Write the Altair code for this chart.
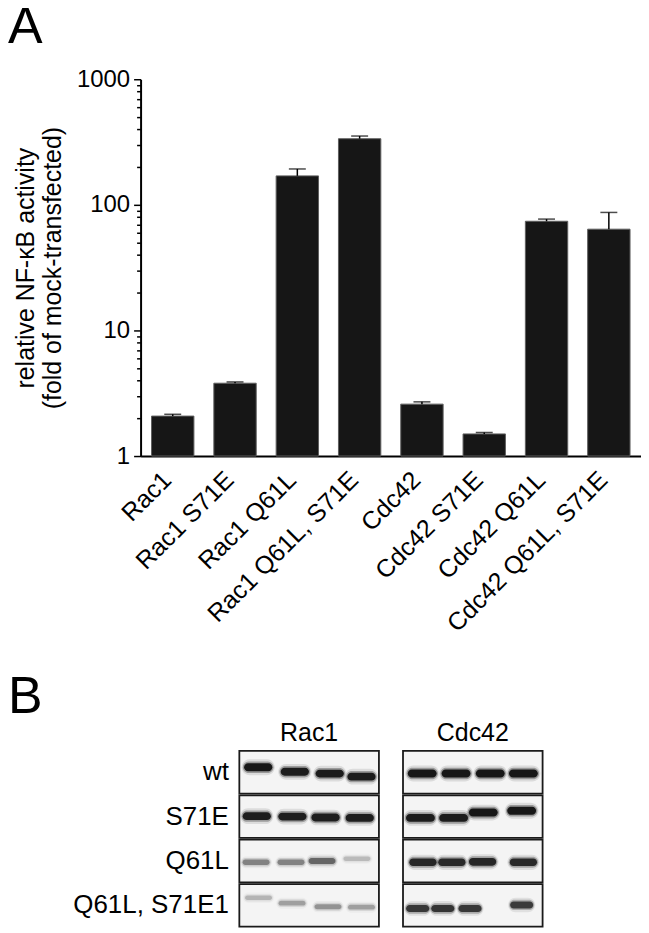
import altair as alt
import pandas as pd

# ---------------- Panel A data ----------------
categories = ["Rac1", "Rac1 S71E", "Rac1 Q61L", "Rac1 Q61L, S71E",
              "Cdc42", "Cdc42 S71E", "Cdc42 Q61L", "Cdc42 Q61L, S71E"]
mean_activity = [2.08, 3.80, 170, 336, 2.59, 1.50, 74, 64]
upper_error = [2.15, 3.89, 193, 353, 2.70, 1.54, 77, 87]

major_ticks = [1, 10, 100, 1000]
all_ticks = [1, 2, 3, 4, 5, 6, 7, 8, 9,
             10, 20, 30, 40, 50, 60, 70, 80, 90,
             100, 200, 300, 400, 500, 600, 700, 800, 900, 1000]

# ---------------- Panel B data (western blot) ----------------
blot_genes = ["Rac1", "Cdc42"]
blot_rows = ["wt", "S71E", "Q61L", "Q61L, S71E1"]
# band darkness (0 = none, 1 = saturated), one list per blot row, 4 lanes each
rac1_intensity = [[1.00, 0.97, 0.97, 0.97],
                  [0.97, 0.95, 0.95, 0.95],
                  [0.42, 0.42, 0.55, 0.20],
                  [0.22, 0.30, 0.35, 0.30]]
cdc42_intensity = [[1.00, 1.00, 1.00, 1.00],
                   [0.97, 0.97, 1.00, 1.00],
                   [0.90, 0.88, 0.90, 0.88],
                   [0.80, 0.82, 0.80, 0.78]]
# lane centre of each band (in lane widths from the blot's left edge)
rac1_lanes = [[0.54, 1.59, 2.59, 3.50],
              [0.50, 1.52, 2.47, 3.45],
              [0.48, 1.48, 2.37, 3.37],
              [0.55, 1.51, 2.54, 3.50]]
cdc42_lanes = [[0.55, 1.52, 2.50, 3.45],
               [0.50, 1.45, 2.30, 3.40],
               [0.57, 1.40, 2.28, 3.45],
               [0.42, 1.14, 1.92, 3.40]]
# migration of each band within its strip (fraction of strip height from top)
rac1_migration = [[0.39, 0.49, 0.53, 0.60],
                  [0.49, 0.50, 0.52, 0.53],
                  [0.53, 0.53, 0.50, 0.45],
                  [0.33, 0.45, 0.53, 0.54]]
cdc42_migration = [[0.53, 0.53, 0.53, 0.53],
                   [0.53, 0.53, 0.41, 0.37],
                   [0.53, 0.53, 0.52, 0.53],
                   [0.57, 0.57, 0.57, 0.49]]
rac1_band_width = [0.88, 0.88, 0.84, 0.84]
cdc42_band_width = [0.90, 0.90, 0.85, 0.72]

FONT = "Liberation Sans"

# ---------------- Panel A ----------------
dfA = pd.DataFrame({"condition": categories, "mean": mean_activity, "upper": upper_error})

is_major = "datum.value == 1 || datum.value == 10 || datum.value == 100 || datum.value == 1000"

x_enc = alt.X("condition:N", sort=categories,
              scale=alt.Scale(paddingInner=0.32, paddingOuter=0.176),
              axis=alt.Axis(title=None, labelAngle=-45, labelFontSize=25, labelFont=FONT,
                            labelColor="black", ticks=False, domainColor="black",
                            domainWidth=2, labelPadding=11, labelOffset=-14,
                            labelLimit=400))
y_scale = alt.Scale(type="log", domain=[1, 1000], nice=False)
y_axis = alt.Axis(values=all_ticks,
                  labelExpr="(" + is_major + ") ? format(datum.value, 'd') : ''",
                  tickSize={"condition": {"test": is_major, "value": 7}, "value": 4},
                  tickColor="black", tickWidth=1.5, domainColor="black", domainWidth=2,
                  labelFontSize=24, labelFont=FONT, labelColor="black", labelPadding=4,
                  title=["relative NF-\u03baB activity", "(fold of mock-transfected)"],
                  titleFont=FONT, titleFontSize=25, titleFontWeight="normal",
                  titleColor="black", titleLineHeight=27, titlePadding=11, grid=False)

bars = alt.Chart(dfA).mark_bar(color="#161616", stroke="#5e5e5e", strokeWidth=1).encode(
    x=x_enc, y=alt.Y("mean:Q", scale=y_scale, axis=y_axis), y2=alt.datum(1))
err = alt.Chart(dfA).mark_rule(color="black", strokeWidth=1.5).encode(
    x=alt.X("condition:N", sort=categories), y="mean:Q", y2="upper:Q")
cap = alt.Chart(dfA).mark_tick(color="black", thickness=1.5).encode(
    x=alt.X("condition:N", sort=categories), y="upper:Q", size=alt.value(17))

chartA = alt.layer(bars, err, cap).properties(
    width=502, height=378,
    title=alt.TitleParams("A", anchor="start", frame="group", fontSize=52, font=FONT,
                          fontWeight="normal", color="black", dx=-133, offset=-28,
                          baseline="alphabetic"))

# ---------------- Panel B ----------------
box_records, band_records = [], []
for gi, gene in enumerate(blot_genes):
    inten = rac1_intensity if gene == "Rac1" else cdc42_intensity
    lanes = rac1_lanes if gene == "Rac1" else cdc42_lanes
    migr = rac1_migration if gene == "Rac1" else cdc42_migration
    bw = rac1_band_width if gene == "Rac1" else cdc42_band_width
    for ri, row in enumerate(blot_rows):
        box_records.append({"gene": gene, "gi": gi, "row": row, "ri": ri})
        for li in range(4):
            band_records.append({"gene": gene, "gi": gi, "row": row, "ri": ri,
                                 "lane": lanes[ri][li], "intensity": inten[ri][li],
                                 "mig": migr[ri][li], "bw": bw[ri]})
dfBox = pd.DataFrame(box_records)
dfBand = pd.DataFrame(band_records)
dfGene = pd.DataFrame({"gene": blot_genes, "gi": [0, 1]})
dfRow = pd.DataFrame({"row": blot_rows, "ri": [0, 1, 2, 3]})

xB = alt.Scale(domain=[-2.83, 11.51], nice=False, zero=False)
yB = alt.Scale(domain=[-0.65, 4], nice=False, zero=False, reverse=True)

boxes_base = alt.Chart(dfBox).transform_calculate(
    x0="datum.gi * 4.69", x1="datum.gi * 4.69 + 4",
    y0="datum.ri + 0.02", y1="datum.ri + 0.98")
box_fill = boxes_base.mark_rect(fill="#f4f4f4").encode(
    x=alt.X("x0:Q", scale=xB, axis=None), x2="x1:Q",
    y=alt.Y("y0:Q", scale=yB, axis=None), y2="y1:Q")
box_edge = boxes_base.mark_rect(fillOpacity=0, stroke="#1a1a1a", strokeWidth=1.8).encode(
    x=alt.X("x0:Q", scale=xB, axis=None), x2="x1:Q",
    y=alt.Y("y0:Q", scale=yB, axis=None), y2="y1:Q")

def band_layer(w_factor, h_base, h_gain, op_factor, radius):
    return alt.Chart(dfBand).transform_calculate(
        hw=f"datum.bw * {w_factor} / 2",
        hh=f"{h_base} + {h_gain} * datum.intensity").transform_calculate(
        bx0="datum.gi * 4.69 + datum.lane - datum.hw",
        bx1="datum.gi * 4.69 + datum.lane + datum.hw",
        by0="datum.ri + datum.mig - datum.hh",
        by1="datum.ri + datum.mig + datum.hh",
        op=f"datum.intensity * {op_factor}").mark_rect(
        color="black", cornerRadius=radius).encode(
        x=alt.X("bx0:Q", scale=xB, axis=None), x2="bx1:Q",
        y=alt.Y("by0:Q", scale=yB, axis=None), y2="by1:Q",
        opacity=alt.Opacity("op:Q", scale=None, legend=None))

halo = band_layer(1.08, 0.10, 0.08, 0.10, 9)
mid = band_layer(1.0, 0.07, 0.06, 0.30, 7)
core = band_layer(0.92, 0.04, 0.05, 0.85, 5)

headers = alt.Chart(dfGene).transform_calculate(
    hx="datum.gi * 4.69 + 2", hy="-0.38").mark_text(
    fontSize=25, font=FONT, color="black", baseline="middle", align="center").encode(
    x=alt.X("hx:Q", scale=xB, axis=None), y=alt.Y("hy:Q", scale=yB, axis=None),
    text="gene:N")
row_labels = alt.Chart(dfRow).transform_calculate(
    lx="-0.3", ly="datum.ri + 0.5").mark_text(
    fontSize=26, font=FONT, color="black", baseline="middle", align="right").encode(
    x=alt.X("lx:Q", scale=xB, axis=None), y=alt.Y("ly:Q", scale=yB, axis=None),
    text="row:N")

chartB = alt.layer(box_fill, halo, mid, core, box_edge, headers, row_labels).properties(
    width=502, height=207,
    title=alt.TitleParams("B", anchor="start", frame="group", fontSize=52, font=FONT,
                          fontWeight="normal", color="black", dx=-133, offset=-44,
                          baseline="alphabetic"))

chart = alt.vconcat(chartA, chartB, spacing=34).properties(
    padding={"left": 0, "top": -8, "right": 0, "bottom": 0}
).configure_view(stroke=None)

chart.save("out.html", embed_options={"renderer": "svg", "actions": False})
